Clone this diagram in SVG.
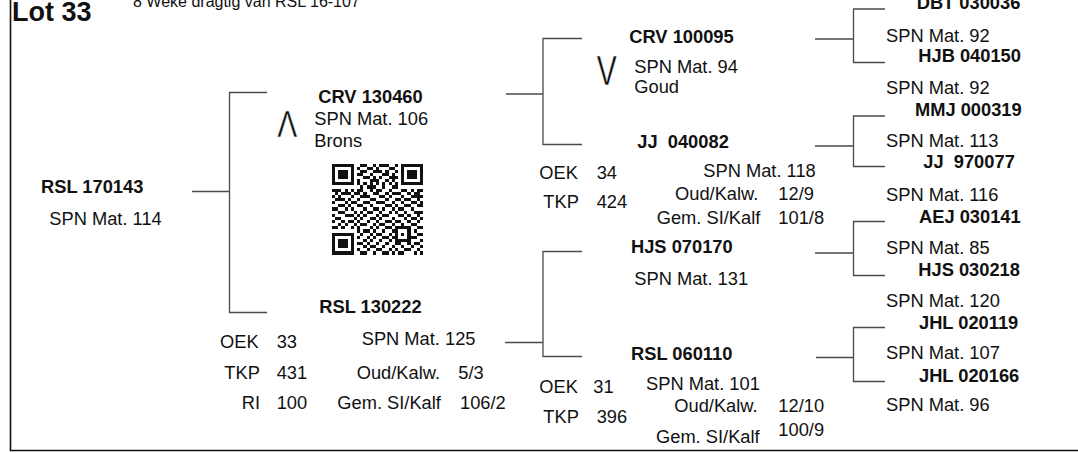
<svg xmlns="http://www.w3.org/2000/svg" width="1078" height="453" viewBox="0 0 1078 453">
<style>
text{font-family:"Liberation Sans",Arial,sans-serif;fill:#111;font-size:18.3px}
.b{font-weight:bold}
.sym{stroke:#fff;stroke-width:0.4}
.c{fill:none;stroke:#4a4a4a;stroke-width:1.3}
.frame{fill:none;stroke:#111;stroke-width:1.6}
</style>
<rect width="1078" height="453" fill="#fff"/>
<path class="frame" d="M10.5 0V450.5H1078"/>
<g id="header">
<text class="b" x="12" y="21" style="font-size:27px">Lot 33</text>
<text x="133" y="7" style="font-size:16px">8 Weke dragtig van RSL 16-107</text>
</g>
<g id="connectors">
<path class="c" d="M192 191.5H229.5M267 92.5H229.5V312.5H267"/>
<path class="c" d="M506 94H543M582 38.5H543V144.5H582"/>
<path class="c" d="M505 342.5H543M582 251.5H543V356.5H582"/>
<path class="c" d="M815 39H853.5M885 9H853.5V62.5H885"/>
<path class="c" d="M815 146H853.5M885 116H853.5V166.5H885"/>
<path class="c" d="M815 253H853.5M885 221.5H853.5V275.5H885"/>
<path class="c" d="M816 357.5H853.5M885 327.5H853.5V381.5H885"/>
</g>
<g id="n-rsl170143">
<text class="b" x="41" y="193.3">RSL 170143</text>
<text x="49.3" y="225">SPN Mat. 114</text>
</g>
<g id="n-crv130460">
<text class="sym" x="277.3" y="137.3" style="font-size:36px" textLength="20" lengthAdjust="spacingAndGlyphs">Λ</text>
<text class="b" x="318.3" y="103.3">CRV 130460</text>
<text x="314.3" y="125">SPN Mat. 106</text>
<text x="314.3" y="146.7">Brons</text>
</g>
<g id="qr" transform="translate(332 163.5) scale(3.14)" shape-rendering="crispEdges" fill="#111">
<path fill-rule="evenodd" d="M0 0h7v7h-7zM1 1v5h5v-5zM2 2h3v3h-3zM22 0h7v7h-7zM23 1v5h5v-5zM24 2h3v3h-3zM0 22h7v7h-7zM1 23v5h5v-5zM2 24h3v3h-3zM20 20h5v5h-5zM21 21v3h3v-3zM22 22h1v1h-1z"/>
<path d="M9 0h2v1H9zM13 0h1v1H13zM15 0h3v1H15zM20 0h1v1H20zM8 1h1v1H8zM11 1h2v1H11zM14 1h1v1H14zM18 1h2v1H18zM9 2h2v1H9zM13 2h3v1H13zM17 2h1v1H17zM20 2h1v1H20zM8 3h2v1H8zM12 3h1v1H12zM16 3h2v1H16zM19 3h1v1H19zM10 4h2v1H10zM13 4h1v1H13zM15 4h1v1H15zM18 4h3v1H18zM8 5h1v1H8zM12 5h3v1H12zM17 5h1v1H17zM19 5h1v1H19zM8 6h1v1H8zM10 6h1v1H10zM12 6h1v1H12zM14 6h1v1H14zM16 6h1v1H16zM18 6h1v1H18zM20 6h1v1H20zM9 7h1v1H9zM11 7h3v1H11zM16 7h1v1H16zM19 7h2v1H19zM0 8h3v1H0zM4 8h1v1H4zM6 8h1v1H6zM8 8h2v1H8zM12 8h1v1H12zM14 8h2v1H14zM18 8h1v1H18zM22 8h2v1H22zM25 8h1v1H25zM27 8h2v1H27zM1 9h1v1H1zM3 9h3v1H3zM7 9h2v1H7zM10 9h1v1H10zM13 9h2v1H13zM17 9h1v1H17zM19 9h3v1H19zM24 9h1v1H24zM26 9h2v1H26zM0 10h1v1H0zM2 10h1v1H2zM6 10h1v1H6zM9 10h3v1H9zM15 10h2v1H15zM18 10h1v1H18zM22 10h1v1H22zM25 10h4v1H25zM1 11h3v1H1zM5 11h1v1H5zM8 11h1v1H8zM12 11h2v1H12zM17 11h1v1H17zM20 11h2v1H20zM23 11h2v1H23zM27 11h1v1H27zM0 12h1v1H0zM4 12h1v1H4zM6 12h2v1H6zM10 12h2v1H10zM14 12h3v1H14zM19 12h1v1H19zM22 12h1v1H22zM25 12h2v1H25zM28 12h1v1H28zM2 13h2v1H2zM5 13h1v1H5zM8 13h2v1H8zM12 13h1v1H12zM17 13h2v1H17zM20 13h1v1H20zM23 13h2v1H23zM27 13h2v1H27zM0 14h2v1H0zM4 14h1v1H4zM6 14h1v1H6zM10 14h1v1H10zM13 14h2v1H13zM16 14h1v1H16zM19 14h1v1H19zM21 14h2v1H21zM25 14h1v1H25zM2 15h2v1H2zM7 15h1v1H7zM9 15h1v1H9zM11 15h2v1H11zM15 15h1v1H15zM18 15h1v1H18zM20 15h1v1H20zM23 15h1v1H23zM26 15h3v1H26zM0 16h1v1H0zM4 16h3v1H4zM8 16h1v1H8zM10 16h1v1H10zM14 16h1v1H14zM16 16h2v1H16zM21 16h2v1H21zM24 16h1v1H24zM27 16h1v1H27zM1 17h2v1H1zM7 17h1v1H7zM9 17h1v1H9zM12 17h2v1H12zM15 17h1v1H15zM19 17h1v1H19zM23 17h1v1H23zM25 17h2v1H25zM28 17h1v1H28zM0 18h1v1H0zM3 18h1v1H3zM5 18h2v1H5zM8 18h1v1H8zM11 18h1v1H11zM14 18h1v1H14zM17 18h2v1H17zM20 18h2v1H20zM24 18h1v1H24zM27 18h1v1H27zM2 19h1v1H2zM4 19h1v1H4zM7 19h1v1H7zM9 19h2v1H9zM13 19h1v1H13zM15 19h2v1H15zM19 19h1v1H19zM22 19h1v1H22zM25 19h2v1H25zM0 20h2v1H0zM3 20h1v1H3zM6 20h1v1H6zM8 20h1v1H8zM12 20h1v1H12zM14 20h1v1H14zM17 20h2v1H17zM27 20h2v1H27zM8 21h1v1H8zM10 21h2v1H10zM13 21h1v1H13zM16 21h1v1H16zM19 21h1v1H19zM26 21h1v1H26zM9 22h1v1H9zM12 22h1v1H12zM14 22h2v1H14zM18 22h1v1H18zM27 22h2v1H27zM8 23h1v1H8zM11 23h1v1H11zM13 23h1v1H13zM16 23h2v1H16zM19 23h1v1H19zM25 23h2v1H25zM10 24h1v1H10zM12 24h1v1H12zM15 24h1v1H15zM18 24h1v1H18zM28 24h1v1H28zM8 25h2v1H8zM11 25h1v1H11zM14 25h1v1H14zM17 25h1v1H17zM20 25h2v1H20zM24 25h1v1H24zM26 25h2v1H26zM10 26h1v1H10zM12 26h2v1H12zM16 26h1v1H16zM19 26h1v1H19zM22 26h1v1H22zM25 26h1v1H25zM28 26h1v1H28zM8 27h1v1H8zM11 27h1v1H11zM14 27h2v1H14zM18 27h1v1H18zM20 27h1v1H20zM23 27h2v1H23zM27 27h1v1H27zM9 28h2v1H9zM13 28h1v1H13zM16 28h2v1H16zM19 28h1v1H19zM21 28h2v1H21zM26 28h1v1H26zM28 28h1v1H28z"/>
</g>
<g id="n-rsl130222">
<text class="b" x="319.3" y="312.7">RSL 130222</text>
<text x="220" y="348.3">OEK</text><text x="276.7" y="348.3">33</text>
<text x="361.7" y="345">SPN Mat. 125</text>
<text x="224.3" y="379.3">TKP</text><text x="276.7" y="379.3">431</text>
<text x="356.7" y="379.3">Oud/Kalw.</text><text x="458.3" y="379.3">5/3</text>
<text x="241.7" y="409.3">RI</text><text x="276.7" y="409.3">100</text>
<text x="337.3" y="409.3">Gem. SI/Kalf</text><text x="460" y="409.3">106/2</text>
</g>
<g id="n-crv100095">
<text class="sym" x="596.7" y="85" style="font-size:42px" textLength="20" lengthAdjust="spacingAndGlyphs">V</text>
<text class="b" x="629.3" y="42.7">CRV 100095</text>
<text x="634.3" y="73.3">SPN Mat. 94</text>
<text x="634.3" y="93.3">Goud</text>
</g>
<g id="n-jj040082">
<text class="b" x="637.3" y="148.3" xml:space="preserve">JJ  040082</text>
<text x="539.3" y="179.3">OEK</text><text x="596.7" y="179.3">34</text>
<text x="703.3" y="176.7">SPN Mat. 118</text>
<text x="543.3" y="208.3">TKP</text><text x="596.7" y="208.3">424</text>
<text x="675" y="200">Oud/Kalw.</text><text x="778.3" y="200">12/9</text>
<text x="656.7" y="223.5">Gem. SI/Kalf</text><text x="778.3" y="223.5">101/8</text>
</g>
<g id="n-hjs070170">
<text class="b" x="631" y="253.3">HJS 070170</text>
<text x="634.3" y="285">SPN Mat. 131</text>
</g>
<g id="n-rsl060110">
<text class="b" x="631" y="360">RSL 060110</text>
<text x="539.3" y="392.7">OEK</text><text x="593.3" y="392.7">31</text>
<text x="646" y="390">SPN Mat. 101</text>
<text x="543.3" y="423.3">TKP</text><text x="596.7" y="423.3">396</text>
<text x="674.3" y="411.7">Oud/Kalw.</text><text x="778.3" y="411.7">12/10</text>
<text x="656" y="443.3">Gem. SI/Kalf</text><text x="778.3" y="436">100/9</text>
</g>
<g id="n-dbt030036"><text class="b" x="916.7" y="8.5">DBT 030036</text><text x="886" y="41.7">SPN Mat. 92</text></g>
<g id="n-hjb040150"><text class="b" x="918.3" y="62.3">HJB 040150</text><text x="886" y="94.3">SPN Mat. 92</text></g>
<g id="n-mmj000319"><text class="b" x="915" y="116">MMJ 000319</text><text x="886" y="147.3">SPN Mat. 113</text></g>
<g id="n-jj970077"><text class="b" x="923.3" y="168.3" xml:space="preserve">JJ  970077</text><text x="886" y="200.7">SPN Mat. 116</text></g>
<g id="n-aej030141"><text class="b" x="919" y="222.7">AEJ 030141</text><text x="886" y="254">SPN Mat. 85</text></g>
<g id="n-hjs030218"><text class="b" x="918.3" y="275.7">HJS 030218</text><text x="886" y="306.7">SPN Mat. 120</text></g>
<g id="n-jhl020119"><text class="b" x="919" y="329">JHL 020119</text><text x="886" y="359">SPN Mat. 107</text></g>
<g id="n-jhl020166"><text class="b" x="919" y="381.7">JHL 020166</text><text x="886" y="410.7">SPN Mat. 96</text></g>
</svg>
